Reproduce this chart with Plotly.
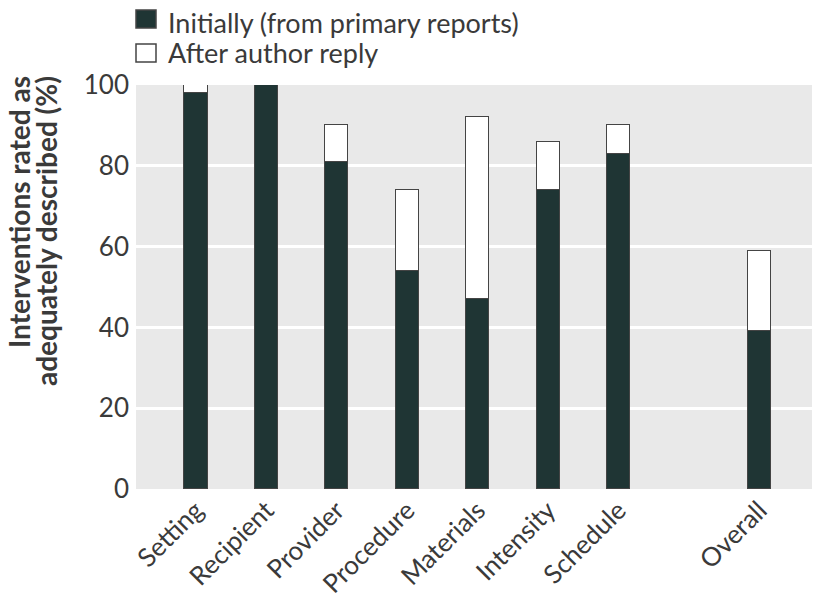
import plotly.graph_objects as go

categories = ["Setting", "Recipient", "Provider", "Procedure", "Materials",
              "Intensity", "Schedule", "Overall"]
initially = [98, 100, 81, 54, 47, 74, 83, 39]
after_reply = [2, 0, 9, 20, 45, 12, 7, 20]
y_ticks = [0, 20, 40, 60, 80, 100]
series_names = ["Initially (from primary reports)", "After author reply"]
y_title_lines = ["Interventions rated as", "adequately described (%)"]

# positions: leave one empty slot before "Overall"
xpos = [i if i < 7 else i + 1 for i in range(len(categories))]

W, H = 812, 592
ML, MR, MT, MB = 128, 2, 77, 111
plot_w = W - ML - MR
plot_h = H - MT - MB

dark = "#1f3534"
outline = "#444444"
txt = "#3a3a3a"
tick_font = dict(family="Lato", size=26, color=txt)
legend_font = dict(family="Lato", size=27, color=txt)
title_font = dict(family="Lato", size=28, color=txt)

fig = go.Figure()
fig.add_trace(go.Bar(x=xpos, y=initially, name=series_names[0],
                     marker=dict(color=dark, line=dict(color=outline, width=1.5)),
                     width=0.33))
fig.add_trace(go.Bar(x=xpos, y=after_reply, name=series_names[1],
                     marker=dict(color="white", line=dict(color=outline, width=1.5)),
                     width=0.33))

# manual legend (drawn above plot area, in the top margin)
square_centers_px = [66, 32]  # pixels above the plot area top
text_centers_px = [63, 32]
for nm, col, dy, ty in zip(series_names, [dark, "white"], square_centers_px, text_centers_px):
    yc = 1 + dy / plot_h
    fig.add_shape(type="rect", xref="paper", yref="paper",
                  xsizemode="pixel", ysizemode="pixel",
                  xanchor=0, yanchor=yc, x0=0, x1=20, y0=-9, y1=9,
                  fillcolor=col, line=dict(color=outline, width=1.5))
    fig.add_annotation(text=nm, xref="paper", yref="paper", x=30 / plot_w,
                       y=1 + ty / plot_h,
                       xanchor="left", yanchor="middle", showarrow=False,
                       font=legend_font)

# y-axis title: two rotated lines, aligned at their top end
for line, xc in zip(y_title_lines, [11, 38]):
    fig.add_annotation(text="<b>" + line + "</b>", xref="paper", yref="paper",
                       x=(xc - ML) / plot_w, y=1 + (MT - 66) / plot_h,
                       xanchor="center", yanchor="top", textangle=-90,
                       showarrow=False, font=title_font)

fig.update_layout(
    barmode="stack",
    width=W, height=H,
    margin=dict(l=ML, r=MR, t=MT, b=MB),
    paper_bgcolor="white",
    plot_bgcolor="#e9e9e9",
    font=tick_font,
    showlegend=False,
    xaxis=dict(range=[-0.85, 8.83], tickmode="array", tickvals=xpos,
               ticktext=categories, tickangle=-45, showgrid=False,
               zeroline=False, ticks="", tickfont=tick_font, showline=False),
    yaxis=dict(range=[0, 100], tickvals=y_ticks, showgrid=True, gridcolor="white",
               gridwidth=3, zeroline=False, ticks="", tickfont=tick_font,
               ticklabelstandoff=6),
    bargap=0,
)

fig.write_html("out.html")
